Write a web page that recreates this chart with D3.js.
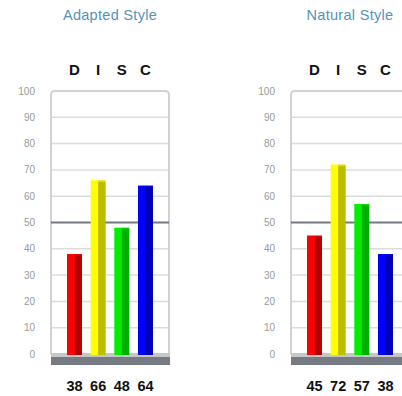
<!DOCTYPE html>
<html><head><meta charset="utf-8">
<script src="https://cdn.jsdelivr.net/npm/d3@7"></script>
<style>html,body{margin:0;padding:0;background:#fff;}</style>
</head><body>
<script>
const categories = ["D", "I", "S", "C"];
const adaptedValues = [38, 66, 48, 64];
const naturalValues = [45, 72, 57, 38];
const panelTitles = ["Adapted Style", "Natural Style"];
const yTicks = [0, 10, 20, 30, 40, 50, 60, 70, 80, 90, 100];
const lightColors = ["#ff0000", "#ffff00", "#00ee00", "#0000ff"];
const darkColors = ["#b30000", "#bdbd00", "#00b000", "#0000b3"];

const svg = d3.select("body").append("svg").attr("width", 402).attr("height", 396);

function panel(offset, title, values) {
  const g = svg.append("g").attr("transform", `translate(${offset},0)`);
  const y = d3.scaleLinear().domain([0, 100]).range([354, 91]);
  const x = d3.scalePoint().domain(categories).range([74.5, 145.5]);
  const left = 51, right = 169, bw = 15;

  g.append("text").attr("x", 110).attr("y", 20).attr("text-anchor", "middle")
    .attr("font-family", "Liberation Sans, Arial, sans-serif").attr("font-size", 14.5)
    .attr("letter-spacing", 0.3)
    .attr("fill", "#5493b9").text(title);

  g.append("g").selectAll("text").data(categories).join("text")
    .attr("x", d => x(d)).attr("y", 75).attr("text-anchor", "middle")
    .attr("font-family", "Liberation Sans, Arial, sans-serif").attr("font-weight", "bold")
    .attr("font-size", 15).attr("fill", "#111").text(d => d);

  // gridlines
  g.append("g").selectAll("line").data(yTicks.filter(t => t > 0 && t < 100 && t !== 50)).join("line")
    .attr("x1", left).attr("x2", right).attr("y1", d => y(d)).attr("y2", d => y(d))
    .attr("stroke", "#dcdcdc").attr("stroke-width", 1.5);

  // frame
  const r = 4;
  g.append("path")
    .attr("d", `M${left},${y(0)} V${y(100) + r} Q${left},${y(100)} ${left + r},${y(100)} H${right - r} Q${right},${y(100)} ${right},${y(100) + r} V${y(0)}`)
    .attr("fill", "none").attr("stroke", "#d2d2d2").attr("stroke-width", 2);

  g.append("line").attr("x1", left).attr("x2", right).attr("y1", y(50)).attr("y2", y(50))
    .attr("stroke", "#737a84").attr("stroke-width", 2);

  // y tick labels
  g.append("g").selectAll("text").data(yTicks).join("text")
    .attr("x", 35).attr("y", d => y(d) + 3.5).attr("text-anchor", "end")
    .attr("font-family", "Liberation Sans, Arial, sans-serif").attr("font-size", 10)
    .attr("fill", "#9a9a9a").text(d => d);

  // base platform
  g.append("rect").attr("x", left).attr("y", y(0) - 1).attr("width", right - left + 1).attr("height", 4)
    .attr("fill", "#c4c6c8");
  g.append("rect").attr("x", left).attr("y", y(0) + 3).attr("width", right - left + 1).attr("height", 8)
    .attr("fill", "#767b83");

  // bars
  const bars = g.append("g").selectAll("g").data(values).join("g");
  bars.append("rect").attr("x", (d, i) => x(categories[i]) - bw / 2).attr("y", d => y(d))
    .attr("width", bw / 2 + 0.5).attr("height", d => y(0) + 1 - y(d)).attr("fill", (d, i) => lightColors[i]);
  bars.append("rect").attr("x", (d, i) => x(categories[i])).attr("y", d => y(d))
    .attr("width", bw / 2).attr("height", d => y(0) + 1 - y(d)).attr("fill", (d, i) => darkColors[i]);
  bars.append("rect").attr("x", (d, i) => x(categories[i]) - bw / 2).attr("y", d => y(d))
    .attr("width", bw).attr("height", 1.5).attr("fill", (d, i) => lightColors[i]).attr("opacity", 0.6);

  // value labels
  g.append("g").selectAll("text").data(values).join("text")
    .attr("x", (d, i) => x(categories[i])).attr("y", 391).attr("text-anchor", "middle")
    .attr("font-family", "Liberation Sans, Arial, sans-serif").attr("font-weight", "bold")
    .attr("font-size", 14.5).attr("fill", "#111").text(d => d);
}

panel(0, panelTitles[0], adaptedValues);
panel(240, panelTitles[1], naturalValues);
</script>
</body></html>
